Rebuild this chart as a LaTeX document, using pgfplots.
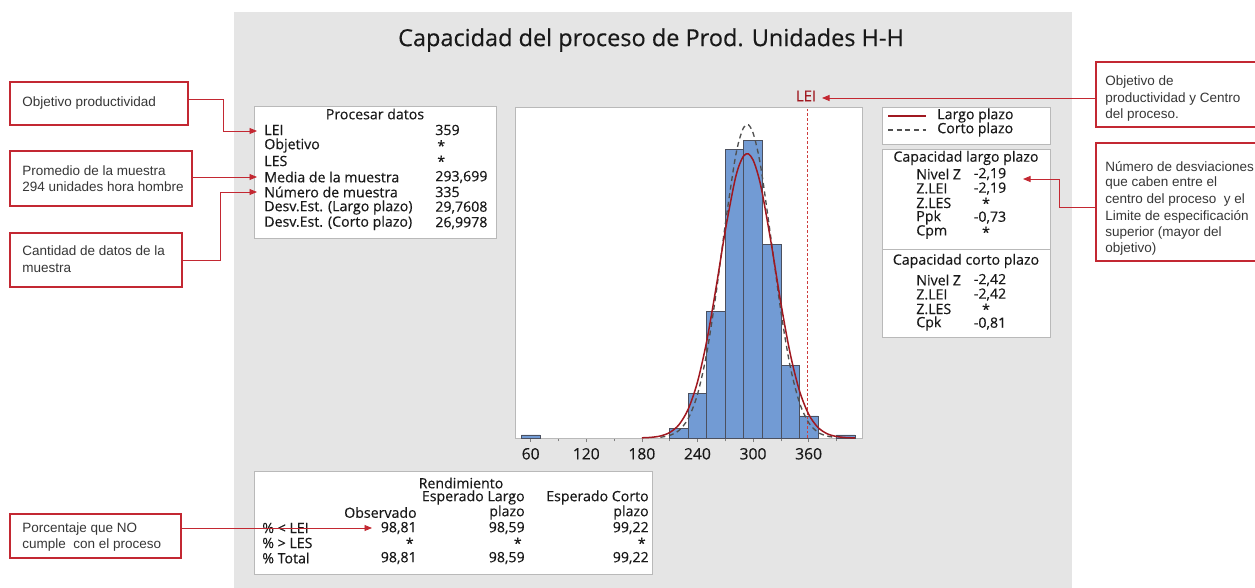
\documentclass[border=0pt]{standalone}
\usepackage{fontspec}
\setmainfont{Open Sans}
\newfontfamily\semi[FakeBold=0.35]{Open Sans}
\newfontfamily\callfont{Liberation Sans}
\usepackage{pgfplots}
\pgfplotsset{compat=1.18}
\usetikzlibrary{arrows.meta}

\definecolor{panelgray}{RGB}{229,229,229}
\definecolor{boxedge}{RGB}{185,185,185}
\definecolor{barblue}{RGB}{114,155,212}
\definecolor{baredge}{RGB}{75,80,95}
\definecolor{ltred}{RGB}{160,24,32}
\definecolor{stgray}{RGB}{80,80,80}
\definecolor{leired}{RGB}{205,60,60}
\definecolor{calred}{RGB}{195,40,50}
\definecolor{txt}{RGB}{25,25,25}
\definecolor{calltxt}{RGB}{55,55,55}

\newcommand\mt{\semi\fontsize{8.5}{10}\selectfont}
\newcommand\ct{\callfont\fontsize{8.1}{9.5}\selectfont}

\begin{document}
\begin{tikzpicture}
\useasboundingbox (0,0) rectangle (753pt,-352.8pt);

% background, panel and text boxes (1 unit = 1 px of the reference)
\begin{scope}[x=0.6pt,y=-0.6pt]
\fill[white] (0,0) rectangle (1255,588);
\fill[panelgray] (234,12) rectangle (1072,600);
\node[font=\semi\fontsize{14.1}{16}\selectfont, text=txt] at (651,40) {Capacidad del proceso de Prod. Unidades H-H};

% Procesar datos
\draw[boxedge, fill=white] (254,106) rectangle (496,238);
\begin{scope}[every node/.style={font=\mt, text=txt, inner sep=0pt}]
\node at (375,114) {Procesar datos};
\node[anchor=west] at (264,130) {LEI};                  \node[anchor=west] at (435,130) {359};
\node[anchor=west] at (264,145.5) {Objetivo};           \node[anchor=west] at (437,145.5) {*};
\node[anchor=west] at (264,161) {LES};                  \node[anchor=west] at (437,161) {*};
\node[anchor=west] at (264,177) {Media de la muestra};  \node[anchor=west] at (435,177) {293,699};
\node[anchor=west] at (264,192) {Número de muestra};    \node[anchor=west] at (435,192) {335};
\node[anchor=west] at (264,207.5) {Desv.Est. (Largo plazo)}; \node[anchor=west] at (435,207.5) {29,7608};
\node[anchor=west] at (264,223) {Desv.Est. (Corto plazo)};   \node[anchor=west] at (435,223) {26,9978};

% legend
\draw[boxedge, fill=white] (882,107) rectangle (1050,144);
\draw[ltred, line width=0.9pt] (888,116) -- (926,116);
\draw[stgray, line width=0.8pt, dash pattern=on 3pt off 2.2pt] (888,130) -- (926,130);
\node[anchor=west] at (937,115.5) {Largo plazo};
\node[anchor=west] at (937,129.5) {Corto plazo};

% capacity
\draw[boxedge, fill=white] (882,149) rectangle (1050,337);
\draw[boxedge] (882,249) -- (1050,249);
\node at (966,158) {Capacidad largo plazo};
\node[anchor=west] at (916,174) {Nivel Z};  \node at (990,174) {-2,19};
\node[anchor=west] at (916,188.5) {Z.LEI};  \node at (990,188.5) {-2,19};
\node[anchor=west] at (916,203) {Z.LES};    \node at (986,203) {*};
\node[anchor=west] at (916,217.5) {Ppk};    \node at (990,217.5) {-0,73};
\node[anchor=west] at (916,232) {Cpm};      \node at (986,232) {*};
\node at (966,261) {Capacidad corto plazo};
\node[anchor=west] at (916,280) {Nivel Z};  \node at (990,280) {-2,42};
\node[anchor=west] at (916,294.5) {Z.LEI};  \node at (990,294.5) {-2,42};
\node[anchor=west] at (916,309) {Z.LES};    \node at (986,309) {*};
\node[anchor=west] at (916,323.5) {Cpk};    \node at (990,323.5) {-0,81};

% Rendimiento
\draw[boxedge, fill=white] (254,471) rectangle (652,574);
\node at (461,483) {Rendimiento};
\node[anchor=east] at (525,497.5) {Esperado Largo};
\node[anchor=east] at (649,497.5) {Esperado Corto};
\node[anchor=east] at (417,512.5) {Observado};
\node[anchor=east] at (525,512.5) {plazo};
\node[anchor=east] at (649,512.5) {plazo};
\node[anchor=west] at (262,528) {\% < LEI};
\node[anchor=west] at (262,543) {\% > LES};
\node[anchor=west] at (262,558) {\% Total};
\node[anchor=east] at (417,528) {98,81}; \node[anchor=east] at (525,528) {98,59}; \node[anchor=east] at (649,528) {99,22};
\node[anchor=east] at (414,543) {*};     \node[anchor=east] at (522,543) {*};     \node[anchor=east] at (646,543) {*};
\node[anchor=east] at (417,558) {98,81}; \node[anchor=east] at (525,558) {98,59}; \node[anchor=east] at (649,558) {99,22};

\node[text=ltred, font=\semi\fontsize{9}{10}\selectfont] at (806,96) {LEI};
\end{scope}

% callouts
\begin{scope}[every node/.style={font=\ct, text=calltxt, inner sep=0pt, anchor=west}]
\draw[calred, line width=0.7pt, fill=white] (10,82) rectangle (188,125);
\node at (22,103) {Objetivo productividad};
\draw[calred, line width=0.7pt, fill=white] (10,151) rectangle (192,206);
\node at (22,171) {Promedio de la muestra};
\node at (22,187) {294 unidades hora hombre};
\draw[calred, line width=0.7pt, fill=white] (10,233) rectangle (182,287);
\node at (22,251) {Cantidad de datos de la};
\node at (22,268) {muestra};
\draw[calred, line width=0.7pt, fill=white] (10,514) rectangle (181,558);
\node at (22,529) {Porcentaje que NO};
\node at (22,545) {cumple\ \ con el proceso};
\draw[calred, line width=0.7pt, fill=white] (1096,62) rectangle (1262,127);
\node at (1105,82) {Objetivo de};
\node at (1105,99) {productividad y Centro};
\node at (1105,115) {del proceso.};
\draw[calred, line width=0.7pt, fill=white] (1096,143) rectangle (1262,261);
\node at (1105,167) {Número de desviaciones};
\node at (1105,183.5) {que caben entre el};
\node at (1105,200) {centro del proceso\ \ y el};
\node at (1105,216.5) {Limite de especificación};
\node at (1105,233) {superior (mayor del};
\node at (1105,249.5) {objetivo)};
\end{scope}
\end{scope}

% histogram with fitted curves
\begin{axis}[
    at={(309pt,-262.8pt)}, anchor=south west,
    scale only axis, width=208.2pt, height=198.6pt,
    xmin=43.1, xmax=417.6, ymin=0, ymax=104.5,
    axis background/.style={fill=white},
    axis line style={boxedge},
    xtick={60,120,180,240,300,360},
    minor xtick={90,150,210,270,330,390},
    ytick=\empty, xtick pos=left, tick align=outside,
    major tick length=2.5pt, minor tick length=2pt,
    tick style={gray},
    tick label style={font=\semi\fontsize{9.4}{10}\selectfont, text=txt},
    /pgf/number format/assume math mode=true,
]
\addplot[ybar, bar width=20, bar shift=0pt, fill=barblue, draw=baredge, line width=0.35pt]
    coordinates {(60,1)(220,3)(240,14)(260,40)(280,91)(300,94)(320,61)(340,23)(360,7)(400,1)};
\addplot[leired, line width=0.45pt, dash pattern=on 1.6pt off 1.2pt]
    coordinates {(359,0)(359,104.5)};
\addplot[stgray, line width=0.8pt, dash pattern=on 3pt off 2.2pt, smooth]
    coordinates {(200,0.24)(210,0.81)(220,2.39)(230,6.12)(240,13.70)(250,26.72)(260,45.43)(270,67.34)(280,87.04)(285,93.99)(290,98.08)(295,98.89)(300,96.34)(305,90.69)(310,82.51)(320,61.60)(330,40.10)(340,22.75)(350,11.26)(360,4.85)(370,1.83)(380,0.60)(390,0.17)};
\addplot[ltred, line width=0.9pt, smooth]
    coordinates {(180,0.06)(190,0.21)(200,0.63)(210,1.72)(220,4.18)(230,9.09)(240,17.63)(250,30.56)(260,47.30)(270,65.40)(280,80.77)(285,86.05)(290,89.11)(295,89.71)(300,87.81)(305,83.55)(310,77.29)(320,60.77)(330,42.67)(340,26.77)(350,15.00)(360,7.51)(370,3.36)(380,1.34)(390,0.48)(400,0.15)(410,0.04)};
\end{axis}

% connector arrows
\begin{scope}[x=0.6pt,y=-0.6pt, calred, line width=0.5pt, -{Triangle[length=4.5pt,width=3.6pt]}]
\draw (188,99) -- (223,99) -- (223,131) -- (257,131);
\draw (192,177) -- (257,177);
\draw (182,260) -- (220,260) -- (220,192) -- (257,192);
\draw (181,528) -- (372,528);
\draw (1096,98) -- (822,98);
\draw (1096,207) -- (1059,207) -- (1059,179) -- (1023,179);
\end{scope}
\end{tikzpicture}
\end{document}
